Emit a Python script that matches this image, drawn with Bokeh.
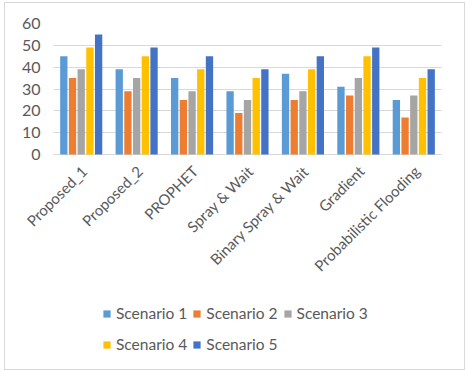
import math
from bokeh.plotting import figure
from bokeh.models import (ColumnDataSource, Range1d, Legend, LegendItem, FixedTicker,
                          BoxAnnotation)
from bokeh.core.properties import value
from bokeh.transform import dodge
from bokeh.embed import file_html
from bokeh.resources import INLINE

categories = ["Proposed_1", "Proposed_2", "PROPHET", "Spray & Wait",
              "Binary Spray & Wait", "Gradient", "Probabilistic Flooding"]
series_names = ["Scenario 1", "Scenario 2", "Scenario 3", "Scenario 4", "Scenario 5"]
scenario1 = [45, 39, 35, 29, 37, 31, 25]
scenario2 = [35, 29, 25, 19, 25, 27, 17]
scenario3 = [39, 35, 29, 25, 29, 35, 27]
scenario4 = [49, 45, 39, 35, 39, 45, 35]
scenario5 = [55, 49, 45, 39, 45, 49, 39]
y_ticks = [0, 10, 20, 30, 40, 50, 60]

colors = ["#5B9BD5", "#ED7D31", "#A5A5A5", "#FFC000", "#4472C4"]

n = len(categories)
xc = [i + 0.5 for i in range(n)]   # category slot centres (slot i spans i..i+1)
src = ColumnDataSource(dict(cat=categories, xc=xc, s1=scenario1, s2=scenario2,
                            s3=scenario3, s4=scenario4, s5=scenario5))

FONT = "Lato"
TXT = "#595959"
GRID = "#d9d9d9"

# layout geometry (page px): plot area 52..440 x 22..153 for 0..60
SLOT_PX = 388 / n
PX_PER_UNIT = 131 / 60
FRAME_L, FRAME_R, FRAME_B = 14, 459, 368
X0 = (FRAME_L - 52) / SLOT_PX
X1 = (FRAME_R - 52) / SLOT_PX
Y_MIN = -(FRAME_B - 153) / PX_PER_UNIT

p = figure(x_range=Range1d(X0, X1), y_range=Range1d(Y_MIN, 60),
           frame_width=FRAME_R - FRAME_L, frame_height=FRAME_B - 22,
           min_border_left=10, min_border_right=4, min_border_top=20,
           min_border_bottom=0,
           output_backend="svg", toolbar_location=None)
p.margin = (2, 0, 0, 4)
p.styles = {"border": "1px solid #d9d9d9", "box-sizing": "border-box"}
p.outline_line_color = None
p.background_fill_color = "white"
p.border_fill_color = "white"

p.ygrid.ticker = FixedTicker(ticks=y_ticks)
p.ygrid.grid_line_color = GRID
p.ygrid.grid_line_width = 1
p.xgrid.grid_line_color = None

# keep the grid lines within the category area only
p.add_layout(BoxAnnotation(right=0, fill_color="white", fill_alpha=1,
                           line_color=None, level="underlay"))
p.add_layout(BoxAnnotation(left=n, fill_color="white", fill_alpha=1,
                           line_color=None, level="underlay"))

offsets = [-0.314, -0.157, 0.0, 0.157, 0.314]
renderers = []
for i, key in enumerate(["s1", "s2", "s3", "s4", "s5"]):
    r = p.vbar(x=dodge("xc", offsets[i]), top=key, width=0.132,
               source=src, fill_color=colors[i], line_color=None)
    renderers.append(r)

p.yaxis.ticker = FixedTicker(ticks=y_ticks)
p.yaxis.axis_line_color = None
p.yaxis.major_tick_line_color = None
p.yaxis.minor_tick_line_color = None
p.yaxis.major_tick_out = 0
p.yaxis.major_tick_in = 0
p.yaxis.major_label_text_font = FONT
p.yaxis.major_label_text_font_size = "16px"
p.yaxis.major_label_text_color = TXT
p.yaxis.major_label_standoff = -(39 - FRAME_L)

p.xaxis.visible = False

# category labels, rotated 45 degrees under each group
p.text(x="xc", y=-6.3, text="cat", source=src,
       angle=math.pi / 4, text_align="right", text_baseline="middle",
       x_offset=3, text_font=value(FONT), text_font_size="15px", text_color=TXT)

legend = Legend(items=[LegendItem(label=series_names[i], renderers=[renderers[i]])
                       for i in range(5)],
                orientation="horizontal", ncols=3,
                label_text_font=FONT, label_text_font_size="15.5px",
                label_text_color=TXT, glyph_width=9, glyph_height=9,
                label_standoff=5, spacing=5, label_height=26, padding=0,
                border_line_color=None, background_fill_alpha=0,
                location=(104 - FRAME_L - 3, FRAME_B - 299 - 57), margin=0)
p.add_layout(legend, "center")

open("out.html", "w").write(file_html(p, INLINE))
